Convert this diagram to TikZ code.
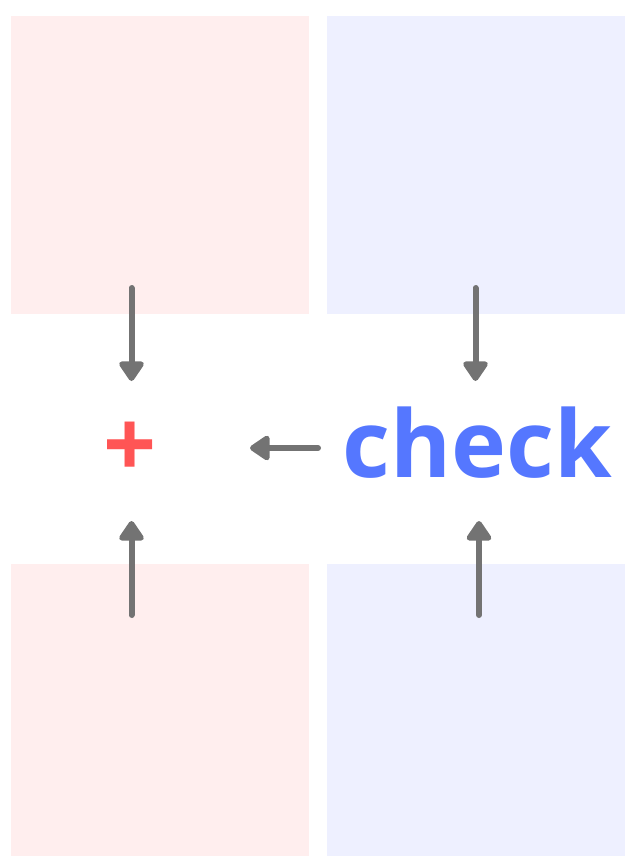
\documentclass[tikz,border=0pt]{standalone}
\usepackage{fontspec}
\setmainfont{Open Sans}
\usetikzlibrary{arrows.meta}
\definecolor{pinkbg}{HTML}{FFEEEE}
\definecolor{bluebg}{HTML}{EEF0FF}
\definecolor{arrowgray}{HTML}{737373}
\definecolor{plusred}{HTML}{FF5555}
\definecolor{checkblue}{HTML}{5577FF}
\begin{document}
\begin{tikzpicture}[x=1pt,y=-1pt,
  panel/.style={draw=none,minimum width=298pt,minimum height=298pt,inner sep=0pt,anchor=north west},
  pinkpanel/.style={panel,fill=pinkbg},
  bluepanel/.style={panel,fill=bluebg},
  bigtext/.style={font=\fontsize{93}{100}\selectfont\bfseries,inner sep=0pt,anchor=base},
  conn/.style={draw=arrowgray,line width=6pt,line cap=round,-{Triangle[width=28pt,length=22pt,round]}}
]
\useasboundingbox (0,0) rectangle (627,856);
\begin{scope}
\clip (0,0) rectangle (627,856);
\node[pinkpanel] (tl) at (11,16) {};
\node[bluepanel] (tr) at (327,16) {};
\node[pinkpanel] (bl) at (11,564) {};
\node[bluepanel] (br) at (327,564) {};
\end{scope}
\node[bigtext,text=plusred] (plus) at (130,477) {+};
\node[bigtext,text=checkblue] (check) at (477.5,477) {check};
\coordinate (tlstart) at (131.5,288);
\coordinate (tlend) at (131.5,381);
\coordinate (blstart) at (131.5,615);
\coordinate (blend) at (131.5,521);
\coordinate (trstart) at (475.5,288);
\coordinate (trend) at (475.5,381);
\coordinate (brstart) at (479,615);
\coordinate (brend) at (479,521);
\coordinate (lstart) at (318,448);
\coordinate (lend) at (250,448);
\draw[conn] (tlstart) -- (tlend);
\draw[conn] (blstart) -- (blend);
\draw[conn] (trstart) -- (trend);
\draw[conn] (brstart) -- (brend);
\draw[conn] (lstart) -- (lend);
\end{tikzpicture}
\end{document}
